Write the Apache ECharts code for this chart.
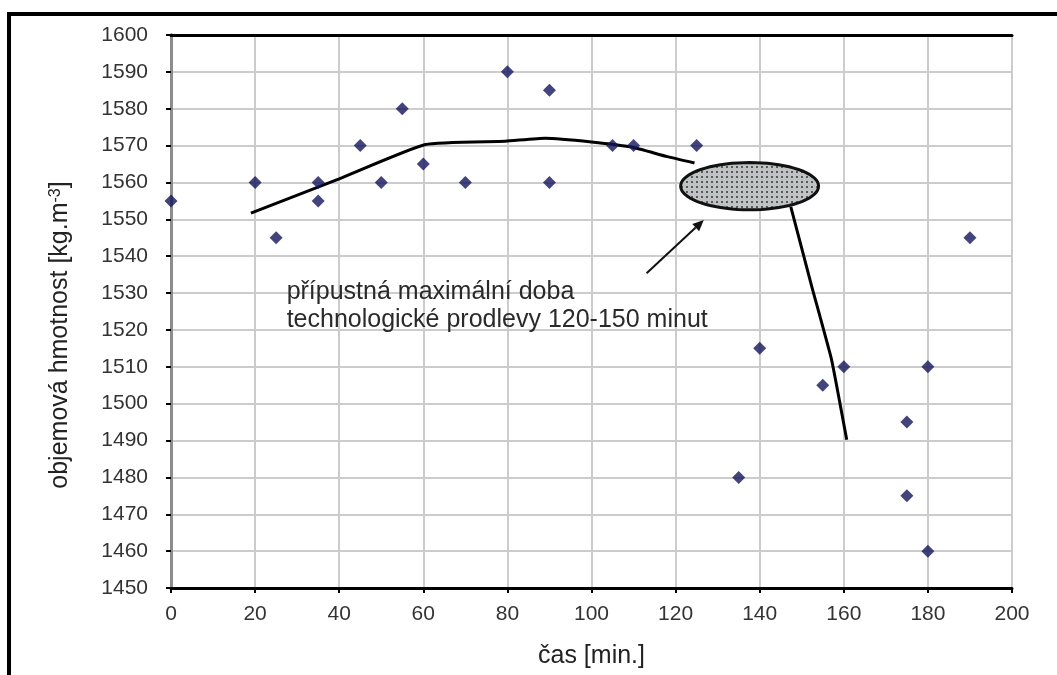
<!DOCTYPE html>
<html><head><meta charset="utf-8">
<script src="https://cdn.jsdelivr.net/npm/echarts@6/dist/echarts.min.js"></script>
<style>html,body{margin:0;padding:0;background:#fff}#c{width:1057px;height:675px}</style>
</head><body><div id="c"></div>
<script>
// measured points: time [min] and bulk density [kg.m-3]
const timeMin = [0, 20, 25, 35, 35, 45, 50, 55, 60, 70, 80, 90, 90, 105, 110, 125, 135, 140, 155, 160, 175, 175, 180, 180, 190];
const density = [1555, 1560, 1545, 1560, 1555, 1570, 1560, 1580, 1565, 1560, 1590, 1585, 1560, 1570, 1570, 1570, 1480, 1515, 1505, 1510, 1495, 1475, 1510, 1460, 1545];

// hand-drawn trend line, part before and after the highlighted zone
const trendAx = [19, 40, 60.5, 79.5, 89, 100, 109.5, 118, 124.5];
const trendAy = [1551.7, 1561, 1570.3, 1571.2, 1572, 1571, 1569.6, 1567, 1565.3];
const trendBx = [147.4, 152.4, 157.1, 160.7];
const trendBy = [1553.4, 1531.7, 1511.9, 1490.2];

// highlighted zone: centre x, centre y, half width, half height (data units)
const zone = [137.6, 1559, 16.4, 6.4];
const arrowFrom = [113.1, 1535.4];
const arrowTo = [126.7, 1549.8];
const noteAt = [27.5, 1534.1];
const noteLines = ['přípustná maximální doba', 'technologické prodlevy 120-150 minut'];

const xMin = 0, xMax = 200, xStep = 20;
const yMin = 1450, yMax = 1600, yStep = 10;

const FONT = '"Liberation Sans", Arial, sans-serif';

const pc = document.createElement('canvas');
pc.width = 5; pc.height = 5;
const g = pc.getContext('2d');
g.fillStyle = '#bfc3c3'; g.fillRect(0, 0, 5, 5);
g.fillStyle = '#555959'; g.fillRect(1, 1, 2, 2);

const chart = echarts.init(document.getElementById('c'));
const lbl = { color: '#333', fontSize: 21, fontFamily: FONT, formatter: v => String(v) };

chart.setOption({
  animation: false,
  backgroundColor: '#fff',
  grid: { left: 171, right: 45, top: 35, bottom: 87 },
  xAxis: [{
    type: 'value', min: xMin, max: xMax, interval: xStep,
    axisLine: { lineStyle: { color: '#000', width: 3 } },
    axisTick: { show: true, length: 5, lineStyle: { color: '#000', width: 2 } },
    axisLabel: Object.assign({ margin: 16 }, lbl),
    splitLine: { show: true, lineStyle: { color: '#cccccc', width: 2 } },
    name: 'čas [min.]', nameLocation: 'middle', nameGap: 56,
    nameTextStyle: { color: '#222', fontSize: 25, fontFamily: FONT }
  }, {
    type: 'value', min: xMin, max: xMax, interval: xStep, position: 'top',
    axisLine: { show: true, lineStyle: { color: '#000', width: 3 } },
    axisTick: { show: false }, axisLabel: { show: false }, splitLine: { show: false }
  }],
  yAxis: [{
    type: 'value', min: yMin, max: yMax, interval: yStep,
    axisLine: { show: true, lineStyle: { color: '#000', width: 3 } },
    axisTick: { show: true, length: 5, lineStyle: { color: '#000', width: 2 } },
    axisLabel: Object.assign({ margin: 23 }, lbl),
    splitLine: { show: true, lineStyle: { color: '#cccccc', width: 2 } }
  }, {
    type: 'value', min: yMin, max: yMax, interval: yStep, position: 'right',
    axisLine: { show: true, lineStyle: { color: '#8c8c8c', width: 3 } },
    axisTick: { show: false }, axisLabel: { show: false }, splitLine: { show: false }
  }],
  graphic: [
    { type: 'rect', shape: { x: 9, y: 14, width: 1200, height: 800 }, style: { fill: 'none', stroke: '#000', lineWidth: 4 }, z: 100 },
    { type: 'text', x: 60, y: 335, rotation: Math.PI / 2,
      style: { text: 'objemová hmotnost [kg.m{sup|-3}]', fill: '#222', fontSize: 25, fontFamily: FONT,
        align: 'center', verticalAlign: 'middle',
        rich: { sup: { fontSize: 16, fontFamily: FONT, fill: '#222', verticalAlign: 'top' } } } }
  ],
  series: [
    { type: 'line', data: trendAx.map((x, i) => [x, trendAy[i]]), smooth: 0.15, showSymbol: false,
      lineStyle: { color: '#000', width: 3 }, silent: true, z: 3 },
    { type: 'line', data: trendBx.map((x, i) => [x, trendBy[i]]), smooth: 0.1, showSymbol: false,
      lineStyle: { color: '#000', width: 3 }, silent: true, z: 3 },
    { type: 'custom', silent: true, z: 4, clip: false, data: [zone],
      renderItem: function (params, api) {
        const c = api.coord([api.value(0), api.value(1)]);
        const s = api.size([api.value(2), api.value(3)]);
        const pts = [];
        for (let i = 0; i < 72; i++) {
          const a = i / 72 * Math.PI * 2;
          pts.push([c[0] + s[0] * Math.cos(a), c[1] + s[1] * Math.sin(a)]);
        }
        return { type: 'polygon', shape: { points: pts },
          style: { fill: { image: pc, repeat: 'repeat' }, stroke: '#111', lineWidth: 3 } };
      } },
    { type: 'custom', silent: true, z: 4, clip: false, data: [[arrowFrom[0], arrowFrom[1], arrowTo[0], arrowTo[1]]],
      renderItem: function (params, api) {
        const p1 = api.coord([api.value(0), api.value(1)]);
        const p2 = api.coord([api.value(2), api.value(3)]);
        const ang = Math.atan2(p2[1] - p1[1], p2[0] - p1[0]);
        const L = 11, W = 5;
        const bx = p2[0] - L * Math.cos(ang), by = p2[1] - L * Math.sin(ang);
        const nx = -Math.sin(ang), ny = Math.cos(ang);
        return { type: 'group', children: [
          { type: 'line', shape: { x1: p1[0], y1: p1[1], x2: bx, y2: by }, style: { stroke: '#111', lineWidth: 2 } },
          { type: 'polygon', shape: { points: [[p2[0], p2[1]], [bx + nx * W, by + ny * W], [bx - nx * W, by - ny * W]] }, style: { fill: '#111' } }
        ] };
      } },
    { type: 'custom', silent: true, z: 4, clip: false, data: [noteAt],
      renderItem: function (params, api) {
        const p = api.coord([api.value(0), api.value(1)]);
        return { type: 'text', x: p[0], y: p[1],
          style: { text: noteLines.join('\n'), fill: '#2a2a2a', fontSize: 25, fontFamily: FONT,
            lineHeight: 28, textAlign: 'left', textVerticalAlign: 'top' } };
      } },
    { type: 'scatter', data: timeMin.map((x, i) => [x, density[i]]), symbol: 'diamond', symbolSize: 13,
      itemStyle: { color: '#15155c' }, z: 5 }
  ]
});
</script>
</body></html>
